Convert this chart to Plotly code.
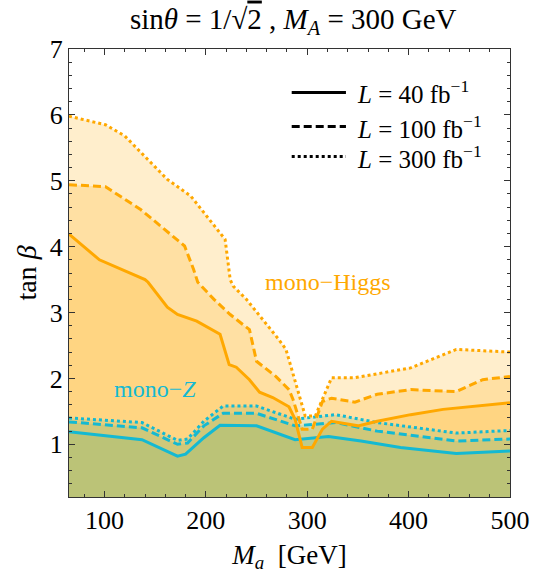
import plotly.graph_objects as go

# ---------------- data ----------------
# mono-Higgs, L = 40 fb^-1 (solid)
h40_x = [65, 91, 95, 140, 143, 162, 172, 191, 214, 223, 230, 243, 253, 266, 282, 288, 295, 305, 315, 324, 350, 369, 402, 434, 466, 500]
h40_y = [4.19, 3.86, 3.80, 3.50, 3.46, 3.08, 2.97, 2.87, 2.67, 2.21, 2.17, 1.98, 1.79, 1.71, 1.57, 1.38, 0.95, 0.95, 1.23, 1.35, 1.28, 1.35, 1.45, 1.53, 1.58, 1.63]
# mono-Higgs, L = 100 fb^-1 (dashed)
h100_x = [65, 101, 136, 179, 188, 192, 208, 224, 243, 250, 269, 282, 286, 295, 305, 315, 324, 347, 369, 402, 447, 473, 500]
h100_y = [4.94, 4.91, 4.56, 4.01, 3.65, 3.46, 3.20, 2.97, 2.74, 2.26, 2.03, 1.83, 1.68, 1.23, 1.23, 1.65, 1.70, 1.64, 1.76, 1.83, 1.80, 1.98, 2.03]
# mono-Higgs, L = 300 fb^-1 (dotted)
h300_x = [65, 101, 120, 162, 185, 214, 219, 224, 227, 240, 256, 272, 279, 288, 298, 308, 324, 347, 402, 447, 500]
h300_y = [5.98, 5.85, 5.68, 5.02, 4.77, 4.21, 4.11, 3.50, 3.40, 3.20, 2.90, 2.59, 2.44, 1.98, 1.43, 1.43, 2.01, 2.01, 2.16, 2.44, 2.40]

# mono-Z, L = 40 fb^-1 (solid)
z40_x = [65, 137, 172, 180, 198, 214, 250, 288, 321, 353, 392, 447, 500]
z40_y = [1.19, 1.07, 0.82, 0.85, 1.10, 1.29, 1.28, 1.07, 1.12, 1.05, 0.95, 0.86, 0.90]
# mono-Z, L = 100 fb^-1 (dashed)
z100_x = [65, 137, 172, 182, 198, 217, 250, 288, 328, 369, 447, 500]
z100_y = [1.34, 1.25, 1.00, 1.02, 1.28, 1.47, 1.47, 1.28, 1.33, 1.20, 1.05, 1.08]
# mono-Z, L = 300 fb^-1 (dotted)
z300_x = [65, 137, 172, 182, 198, 217, 250, 288, 328, 369, 447, 500]
z300_y = [1.40, 1.33, 1.06, 1.08, 1.35, 1.58, 1.58, 1.38, 1.45, 1.33, 1.17, 1.21]

legend_labels = ["<i>L</i> = 40 fb<sup>−1</sup>",
                 "<i>L</i> = 100 fb<sup>−1</sup>",
                 "<i>L</i> = 300 fb<sup>−1</sup>"]

# ---------------- styles ----------------
ORANGE = "rgb(255,168,0)"
CYAN = "rgb(20,185,210)"
ORANGE_FILL = "rgba(255,170,0,0.20)"
CYAN_FILL = "rgba(38,156,101,0.115)"
FONT = "Liberation Serif"
DASHES = ["solid", "8px,4px", "3px,3px"]

fig = go.Figure()

higgs = [(h300_x, h300_y, 2), (h100_x, h100_y, 1), (h40_x, h40_y, 0)]
monoz = [(z300_x, z300_y, 2), (z100_x, z100_y, 1), (z40_x, z40_y, 0)]

for xs, ys, _ in higgs:
    fig.add_trace(go.Scatter(x=xs, y=ys, mode="lines", fill="tozeroy",
                             fillcolor=ORANGE_FILL, line=dict(width=0),
                             hoverinfo="skip", showlegend=False))
for xs, ys, _ in monoz:
    fig.add_trace(go.Scatter(x=xs, y=ys, mode="lines", fill="tozeroy",
                             fillcolor=CYAN_FILL, line=dict(width=0),
                             hoverinfo="skip", showlegend=False))
for xs, ys, d in monoz:
    fig.add_trace(go.Scatter(x=xs, y=ys, mode="lines",
                             line=dict(color=CYAN, width=3, dash=DASHES[d]),
                             showlegend=False))
for xs, ys, d in higgs:
    fig.add_trace(go.Scatter(x=xs, y=ys, mode="lines",
                             line=dict(color=ORANGE, width=3, dash=DASHES[d]),
                             showlegend=False))

# legend (drawn manually to match the reference)
leg_y = [0.903, 0.827, 0.760]
for i, lab in enumerate(legend_labels):
    fig.add_shape(type="line", xref="paper", yref="paper",
                  x0=0.505, x1=0.628, y0=leg_y[i], y1=leg_y[i],
                  line=dict(color="black", width=3, dash=DASHES[i]))
    fig.add_annotation(xref="paper", yref="paper", x=0.648, y=leg_y[i],
                       text=lab, showarrow=False, xanchor="left", yanchor="middle",
                       font=dict(family=FONT, size=25, color="black"))

fig.add_annotation(x=320, y=3.47, text="mono−Higgs", showarrow=False,
                   font=dict(family=FONT, size=24, color=ORANGE))
fig.add_annotation(x=150, y=1.84, text="mono−<i>Z</i>", showarrow=False,
                   font=dict(family=FONT, size=24, color=CYAN))

axis_common = dict(showgrid=False, zeroline=False, showline=True, linecolor="#333",
                   linewidth=1, mirror="ticks", ticks="inside", ticklen=6,
                   tickcolor="#333", tickfont=dict(family=FONT, size=26, color="black"))

fig.update_xaxes(range=[65, 500], tick0=100, dtick=100,
                 minor=dict(dtick=20, tick0=0, ticks="inside", ticklen=3, tickcolor="#333"),
                 title=dict(text="<i>M<sub>a</sub></i>&nbsp;&nbsp;[GeV]", font=dict(family=FONT, size=27, color="black"),
                            standoff=10),
                 **axis_common)
fig.update_yaxes(range=[0.2, 7], tick0=0, dtick=1,
                 minor=dict(dtick=0.2, tick0=0, ticks="inside", ticklen=3, tickcolor="#333"),
                 title=dict(text="tan&nbsp;<i>β</i>", font=dict(family=FONT, size=28, color="black"),
                            standoff=4),
                 **axis_common)

fig.update_layout(
    width=542, height=576,
    margin=dict(l=69, r=24, t=49, b=79),
    plot_bgcolor="white", paper_bgcolor="white",
    title=dict(text="sin<i>θ</i> = 1/√<span style='text-decoration:overline'>2</span> , <i>M<sub>A</sub></i> = 300 GeV",
               x=0.541, xanchor="center", y=0.968, yanchor="middle",
               font=dict(family=FONT, size=29, color="black")),
    showlegend=False,
)

fig.write_html("out.html")
